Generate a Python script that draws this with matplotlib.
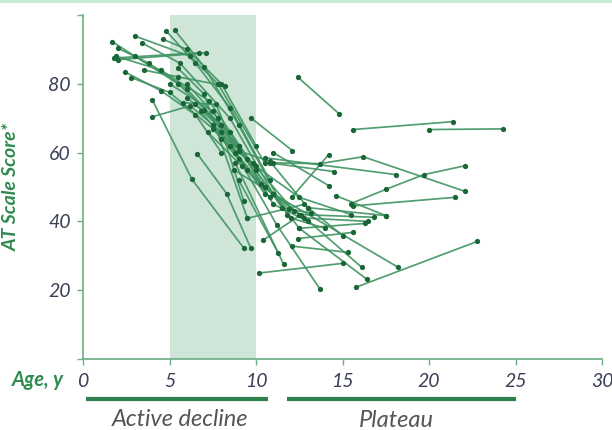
import matplotlib
matplotlib.use('Agg')
import matplotlib.pyplot as plt
from matplotlib.lines import Line2D

plt.rcParams['font.family'] = ['Lato', 'DejaVu Sans']

# one list per subject: ages (y) and AT scale scores
ages = [
    [1.7, 3.0, 5.5, 8.0],
    [2.0, 3.8, 6.0, 9.0],
    [1.9, 4.5, 7.3, 10.0],
    [2.0, 7.1],
    [1.8, 6.7],
    [3.0, 6.2, 7.8, 10.5],
    [3.4, 5.6, 8.5, 11.0],
    [4.8, 6.5, 8.5, 10.8],
    [5.3, 7.0, 9.0, 11.8],
    [4.6, 6.0, 8.0, 10.0],
    [2.4, 4.5, 6.5, 8.0],
    [2.8, 5.0, 7.5, 9.5],
    [4.0, 6.3, 9.3],
    [4.0, 6.2, 8.0, 10.5],
    [3.5, 5.5, 8.2],
    [9.7, 12.1],
    [6.6, 8.3, 9.7],
    [6.0, 7.8, 9.3],
    [5.5, 7.0, 9.5],
    [5.0, 7.5, 10.5, 12.5],
    [6.0, 8.5, 11.0, 13.0],
    [6.5, 9.0, 11.5],
    [7.0, 9.5, 12.0, 14.0],
    [7.5, 9.8, 12.2],
    [8.0, 10.0, 12.5, 15.5],
    [8.5, 10.3, 12.8, 16.5],
    [6.8, 8.8, 11.2, 13.7],
    [5.8, 7.7, 9.0, 10.8],
    [9.0, 10.8, 13.0, 17.5],
    [8.7, 11.0, 12.5, 16.3],
    [12.4, 14.8],
    [15.6, 21.4],
    [20.0, 24.3],
    [11.0, 13.7, 16.2, 22.1],
    [12.1, 14.2],
    [15.5, 17.5, 19.7, 22.1],
    [15.6, 21.5],
    [10.8, 14.5],
    [11.0, 14.2],
    [10.5, 18.1],
    [14.6, 17.5],
    [12.5, 16.8],
    [13.0, 15.0],
    [10.2, 15.0],
    [11.0, 18.2],
    [15.8, 22.8],
    [12.5, 16.4],
    [10.4, 12.6, 16.1],
    [12.1, 15.3],
    [9.0, 11.3],
    [8.8, 11.6],
    [12.4, 15.6],
    [9.5, 12.8],
    [7.2, 9.2, 11.9, 13.2],
]
scores = [
    [92.2, 88.0, 80.0, 68.0],
    [90.4, 86.0, 78.5, 62.0],
    [88.0, 84.0, 75.0, 55.0],
    [87.0, 89.0],
    [87.5, 89.0],
    [93.9, 88.0, 80.0, 57.0],
    [91.9, 86.0, 70.0, 48.0],
    [95.4, 86.0, 73.0, 52.0],
    [95.6, 85.0, 68.0, 42.0],
    [93.0, 90.0, 80.0, 62.0],
    [83.5, 78.0, 71.0, 60.0],
    [81.8, 77.5, 67.0, 55.0],
    [75.4, 52.2, 32.2],
    [70.4, 73.6, 66.0, 48.0],
    [84.0, 82.0, 79.4],
    [70.1, 60.6],
    [59.7, 48.1, 32.2],
    [80.0, 70.0, 45.8],
    [84.5, 77.0, 40.9],
    [80.0, 72.0, 50.0, 42.0],
    [76.0, 66.0, 45.0, 40.0],
    [74.0, 62.0, 44.0],
    [72.5, 58.0, 41.0, 38.0],
    [68.0, 57.0, 43.0],
    [64.0, 56.0, 47.0, 42.0],
    [62.0, 51.0, 41.0, 40.0],
    [72.0, 60.0, 39.0, 20.3],
    [74.5, 74.0, 58.0, 47.0],
    [60.5, 57.5, 44.0, 41.7],
    [55.0, 48.0, 38.0, 39.4],
    [82.0, 71.3],
    [66.7, 69.0],
    [66.7, 66.9],
    [57.0, 56.8, 58.8, 48.7],
    [47.2, 59.4],
    [45.2, 49.3, 53.6, 56.2],
    [44.5, 47.0],
    [57.0, 54.5],
    [60.0, 50.4],
    [58.5, 53.6],
    [47.5, 41.7],
    [42.0, 41.2],
    [44.0, 35.9],
    [25.0, 27.8],
    [48.0, 26.7],
    [20.9, 34.2],
    [38.0, 23.2],
    [34.5, 42.0, 26.7],
    [32.8, 31.0],
    [52.0, 30.7],
    [57.0, 27.5],
    [35.0, 36.8],
    [40.9, 45.0],
    [66.0, 56.0, 43.5, 42.5],
]

xticks = [0, 5, 10, 15, 20, 25, 30]
yticks = [0, 20, 40, 60, 80, 100]
ylabels = ['', '20', '40', '60', '80', '']

line_c = '#3f9462'
dot_c = '#1a6636'
axis_c = '#6aae82'
green_txt = '#2f8a4f'
tick_txt = '#3b3f55'

fig = plt.figure(figsize=(6.12, 4.3), dpi=100)
ax = fig.add_axes([83/612, 71/430, 519/612, 344/430])

ax.axvspan(5, 10, color='#cfe5d7', zorder=0, lw=0)

for a, s in zip(ages, scores):
    ax.plot(a, s, '-', color=line_c, lw=1.25, alpha=0.9, zorder=2)
    ax.plot(a, s, 'o', color=dot_c, ms=3.8, zorder=3, mec='none')

ax.set_xlim(0, 30)
ax.set_ylim(0, 100)
for side in ['top', 'right']:
    ax.spines[side].set_visible(False)
for side in ['left', 'bottom']:
    ax.spines[side].set_color(axis_c)
    ax.spines[side].set_linewidth(1.2)

ax.set_xticks(xticks)
ax.set_yticks(yticks)
ax.set_yticklabels(ylabels)
ax.tick_params(colors=axis_c, length=4, width=1, labelcolor=tick_txt, labelsize=14)
ax.tick_params(axis='x', pad=6)
ax.tick_params(axis='y', pad=5)
for lab in ax.get_xticklabels() + ax.get_yticklabels():
    lab.set_fontstyle('italic')

ax.set_ylabel('AT Scale Score*', color=green_txt, fontsize=14, fontweight='bold',
              fontstyle='italic')
ax.yaxis.set_label_coords(-63/519, 0.5)
fig.text(64/612, 1 - 380/430, 'Age, y', color=green_txt, fontsize=14.5,
         fontweight='bold', fontstyle='italic', ha='right', va='center')

# phase bars under the axis
tr = ax.get_xaxis_transform()
ax.plot([0.2, 10.7], [-0.116, -0.116], transform=tr, color='#2f7f4f', lw=3,
        clip_on=False, solid_capstyle='butt')
ax.plot([11.8, 25.0], [-0.116, -0.116], transform=tr, color='#2f7f4f', lw=3,
        clip_on=False, solid_capstyle='butt')
ax.text(5.6, -0.175, 'Active decline', transform=tr, ha='center', va='center',
        color='#555555', fontsize=17, fontstyle='italic')
ax.text(18.1, -0.178, 'Plateau', transform=tr, ha='center', va='center',
        color='#555555', fontsize=17, fontstyle='italic')

fig.add_artist(Line2D([0, 1], [0.997, 0.997], transform=fig.transFigure,
                      color='#c9ecd8', lw=3))

fig.savefig('out.png', dpi=100)
